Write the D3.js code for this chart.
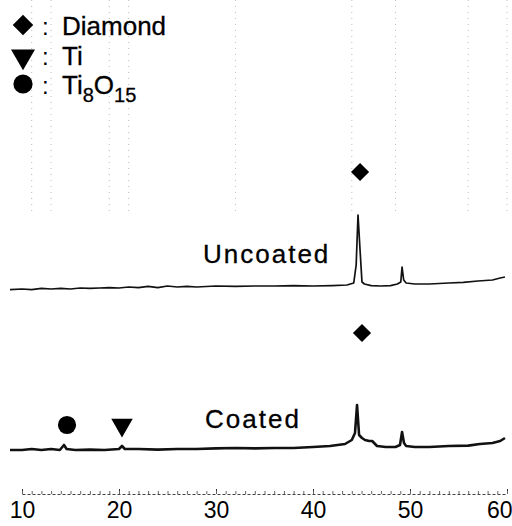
<!DOCTYPE html>
<html>
<head>
<meta charset="utf-8">
<script src="https://cdn.jsdelivr.net/npm/d3@7"></script>
<style>
  html, body { margin: 0; padding: 0; background: #fff; }
  svg { display: block; font-family: "Liberation Sans", Arial, Helvetica, sans-serif; }
</style>
</head>
<body>
<svg id="chart"></svg>
<script>
// 2theta (deg), intensity (a.u.)
const uncoated = [
  [8.76, 22.2], [10, 22.5], [11, 22.2], [12, 22.8], [13, 22.5], [14, 22.8], [15, 22.5],
  [16, 23], [17, 22.8], [18, 23], [19, 23.2], [20, 23], [21, 23.5], [22, 23.2],
  [23, 23.8], [24, 23.2], [25, 24], [26, 23.5], [27, 23.8], [28, 23.5], [30, 24],
  [32, 23.8], [34, 24], [36, 24], [38, 24.2], [40, 24], [42, 24.2], [43.5, 24.5],
  [44.2, 25.5], [44.45, 34.5], [44.64, 59.5], [44.85, 42], [45.05, 26], [45.3, 25],
  [46, 24.2], [47, 24], [48, 24.2], [48.7, 25], [49.05, 26], [49.18, 33.5], [49.35, 27],
  [49.6, 25.5], [50.5, 25], [52, 25], [54, 25.5], [55.5, 25.8], [57, 26.5], [58.5, 27],
  [59.3, 28], [59.79, 28.5]
]

const coated = [
  [8.76, 22], [10, 22], [11, 22.5], [12, 22], [13, 22.5], [13.9, 22], [14.33, 24.5],
  [14.6, 22.5], [15.5, 22], [17, 22.2], [18.5, 22], [20, 22.5], [20.31, 24], [20.6, 22.5],
  [22, 22.5], [24, 22.2], [26, 22.5], [28, 22.5], [30, 22.8], [32, 23], [34, 22.8],
  [36, 23], [38, 23], [40, 23.5], [41.75, 24], [43.3, 25], [44, 27], [44.33, 30.5],
  [44.54, 44.5], [44.75, 29.5], [45.05, 28], [45.36, 27], [45.8, 26.5], [46.1, 26.5],
  [46.4, 25], [46.6, 24], [47.5, 23.5], [48.5, 23.5], [48.97, 24.5], [49.18, 31],
  [49.38, 25.5], [49.6, 24], [50.5, 23.5], [52, 23.5], [54, 24], [56, 24.2], [57.2, 25],
  [58.5, 25.5], [59.3, 26.5], [59.79, 28]
]

const uncoatedOffset = 80

// phase markers: [phase, 2theta, intensity, series]
const markers = [
  ['diamond', 44.85, 81, 'uncoated'],
  ['diamond', 45.05, 80.5, 'coated'],
  ['circle', 14.64, 34.5, 'coated'],
  ['triangle', 20.31, 34.5, 'coated']
]

const seriesLabels = [
  ['Uncoated', 28.66, 35.5, 'uncoated'],
  ['Coated', 28.87, 33, 'coated']
]

const legendItems = ['diamond', 'triangle', 'circle']
const xTicks = [10, 20, 30, 40, 50, 60]

const svgWidth = 512
const svgHeight = 526
const margin = { top: 0, right: 5, bottom: 32, left: 22 }
const width = svgWidth - margin.left - margin.right
const height = svgHeight - margin.top - margin.bottom

const svg = d3.select('#chart')
  .attr('width', svgWidth)
  .attr('height', svgHeight)

const g = svg.append('g')
  .attr('transform', `translate(${margin.left}, ${margin.top})`)

const x = d3.scaleLinear().domain([10, 60]).range([0, width])
const y = d3.scaleLinear().domain([0, height / 2]).range([height, 0])

const offsetOf = s => (s === 'uncoated' ? uncoatedOffset : 0)

// faint scanned graph-paper lines
g.append('g')
  .selectAll('line')
  .data([11, 13, 19, 21, 32, 44, 48.5, 56, 60])
  .join('line')
  .attr('x1', d => x(d)).attr('x2', d => x(d))
  .attr('y1', 0).attr('y2', y(60 + uncoatedOffset))
  .attr('stroke', '#bbb')
  .attr('stroke-width', 1)
  .attr('stroke-dasharray', '1,5')

// x axis, ticks pointing up
const xAxis = d3.axisBottom(x)
  .tickValues(xTicks)
  .tickSizeInner(-5)
  .tickSizeOuter(0)
  .tickPadding(8)
  .tickFormat(d3.format('d'))

const axisG = g.append('g')
  .attr('transform', `translate(0, ${height})`)
  .call(xAxis)
axisG.attr('font-size', 23).attr('font-family', null)
axisG.select('.domain')
  .attr('stroke', '#444')
  .attr('stroke-dasharray', '3,2')
axisG.selectAll('.tick line').attr('stroke', '#333')
axisG.selectAll('.tick text')
  .attr('font-size', 23)
  .attr('fill', '#000')
  .attr('text-anchor', d => (d === 60 ? 'end' : 'middle'))
  .attr('dx', d => (d === 60 ? 5 : 0))

g.append('g')
  .attr('transform', `translate(0, ${height})`)
  .call(d3.axisBottom(x).ticks(50).tickSizeInner(-3).tickSizeOuter(0).tickFormat(''))
  .call(s => s.select('.domain').remove())
  .selectAll('.tick line')
  .attr('stroke', '#666')

// traces
const line = d3.line()
  .x(d => x(d[0]))

g.append('path')
  .datum(uncoated)
  .attr('fill', 'none')
  .attr('stroke', '#111')
  .attr('stroke-width', 1.7)
  .attr('stroke-linejoin', 'round')
  .attr('d', line.y(d => y(d[1] + uncoatedOffset)))

g.append('path')
  .datum(coated)
  .attr('fill', 'none')
  .attr('stroke', '#111')
  .attr('stroke-width', 2.6)
  .attr('stroke-linejoin', 'round')
  .attr('d', line.y(d => y(d[1])))

// symbols
const symbolOf = {
  diamond: d3.symbol().type(d3.symbolSquare).size(165),
  circle: d3.symbol().type(d3.symbolCircle).size(260),
  triangle: d3.symbol().type(d3.symbolTriangle).size(200)
}
const legendSymbolOf = {
  diamond: d3.symbol().type(d3.symbolSquare).size(210),
  circle: d3.symbol().type(d3.symbolCircle).size(290),
  triangle: d3.symbol().type(d3.symbolTriangle).size(250)
}
const rotOf = { diamond: 45, circle: 0, triangle: 180 }

g.append('g')
  .selectAll('path')
  .data(markers)
  .join('path')
  .attr('d', d => symbolOf[d[0]]())
  .attr('fill', '#000')
  .attr('transform', d => `translate(${x(d[1])}, ${y(d[2] + offsetOf(d[3]))}) rotate(${rotOf[d[0]]})`)

g.append('g')
  .selectAll('text')
  .data(seriesLabels)
  .join('text')
  .attr('x', d => x(d[1]))
  .attr('y', d => y(d[2] + offsetOf(d[3])))
  .attr('font-size', 26)
  .attr('letter-spacing', 2)
  .attr('fill', '#000')
  .attr('stroke', '#000')
  .attr('stroke-width', 0.3)
  .text(d => d[0])

// legend
const legend = svg.append('g')
const rowY = i => 25 + i * 29.5

const rows = legend.selectAll('g')
  .data(legendItems)
  .join('g')
  .attr('transform', (d, i) => `translate(0, ${rowY(i)})`)

rows.append('path')
  .attr('d', d => legendSymbolOf[d]())
  .attr('fill', '#000')
  .attr('transform', d => `translate(23, ${d === 'triangle' ? 2 : 0}) rotate(${rotOf[d]})`)

rows.append('text')
  .attr('x', 42)
  .attr('y', 10)
  .attr('font-size', 24)
  .text(':')

const texts = rows.append('text')
  .attr('x', 62)
  .attr('y', 10)
  .attr('font-size', 26)
  .attr('stroke', '#000')
  .attr('stroke-width', 0.3)

texts.filter(d => d === 'diamond').text('Diamond')
texts.filter(d => d === 'triangle').text('Ti')
const tio = texts.filter(d => d === 'circle')
tio.append('tspan').text('Ti')
tio.append('tspan').attr('dy', 8).attr('font-size', 20).text('8')
tio.append('tspan').attr('dy', -8).text('O')
tio.append('tspan').attr('dy', 8).attr('font-size', 20).text('15')
</script>
</body>
</html>
